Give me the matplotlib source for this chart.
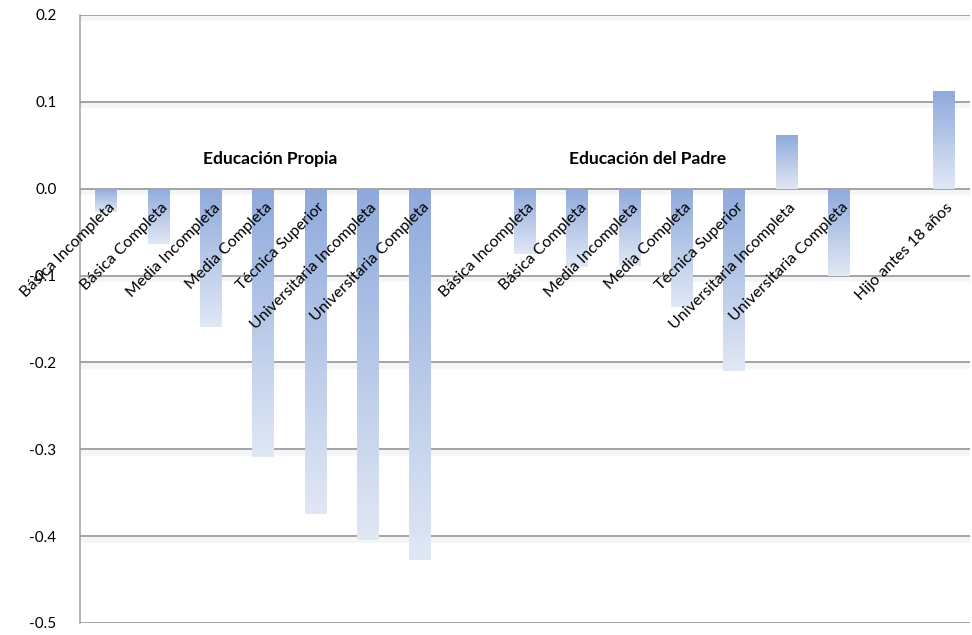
import matplotlib.pyplot as plt
import numpy as np
from matplotlib.colors import LinearSegmentedColormap

# Effects on outcome, by own education, father's education and early child
categories = [
    "Básica Incompleta", "Básica Completa", "Media Incompleta", "Media Completa",
    "Técnica Superior", "Universitaria Incompleta", "Universitaria Completa",
    "",
    "Básica Incompleta", "Básica Completa", "Media Incompleta", "Media Completa",
    "Técnica Superior", "Universitaria Incompleta", "Universitaria Completa",
    "",
    "Hijo antes 18 años",
]
values = [
    -0.027, -0.064, -0.159, -0.309, -0.375, -0.404, -0.427,
    np.nan,
    -0.075, -0.090, -0.089, -0.136, -0.210, 0.062, -0.101,
    np.nan,
    0.112,
]
group_titles = ["Educación Propia", "Educación del Padre"]
group_title_x = [3.13, 10.35]
yticks = [0.2, 0.1, 0.0, -0.1, -0.2, -0.3, -0.4, -0.5]

plt.rcParams["font.family"] = ["Lato", "DejaVu Sans"]

fig = plt.figure(figsize=(9.72, 6.35), dpi=100)
ax = fig.add_axes([80 / 972, 12 / 635, 890 / 972, 608 / 635])

grad = LinearSegmentedColormap.from_list("bar", ["#8eaadc", "#e1e8f5"])
xs = np.arange(len(categories))
bars = ax.bar(xs, np.nan_to_num(values), width=0.42, color="none",
              edgecolor="none", zorder=3)
for b, v in zip(bars, values):
    if np.isnan(v):
        continue
    x0, w = b.get_x(), b.get_width()
    y0, y1 = sorted([0, v])
    im = ax.imshow(np.linspace(0, 1, 256).reshape(-1, 1), cmap=grad,
                   extent=(x0, x0 + w, y0, y1), origin="upper",
                   aspect="auto", zorder=3)
    im.set_clip_path(b)

ax.set_xlim(-0.5, len(categories) - 0.5)
ax.set_ylim(-0.5, 0.2)
ax.set_yticks(yticks)
ax.set_yticklabels([f"{t:.1f}" for t in yticks], fontsize=11)
ax.tick_params(axis="y", length=0, pad=17)
ax.set_xticks([])

# gridlines with a faint soft shadow underneath
for t in yticks:
    ax.plot([-0.5, len(categories) - 0.5], [t - 0.004] * 2, color="#f3f5f8",
            lw=4, zorder=1, solid_capstyle="butt")
    ax.axhline(t, color="#8c8c8c", lw=1.1, zorder=2)

for s in ["top", "right", "bottom"]:
    ax.spines[s].set_visible(False)
ax.spines["left"].set_color("#a0a0a0")
ax.spines["left"].set_linewidth(1.1)

for i, lab in enumerate(categories):
    if not lab:
        continue
    ax.annotate(lab, (i, 0), xytext=(5, -12), textcoords="offset points",
                rotation=45, rotation_mode="anchor", ha="right", va="center",
                fontsize=11.5, zorder=5)

for t, gx in zip(group_titles, group_title_x):
    ax.text(gx, 0.034, t, ha="center", va="center", fontsize=12.5,
            fontweight="bold", zorder=5)

fig.savefig("out.png", dpi=100)
